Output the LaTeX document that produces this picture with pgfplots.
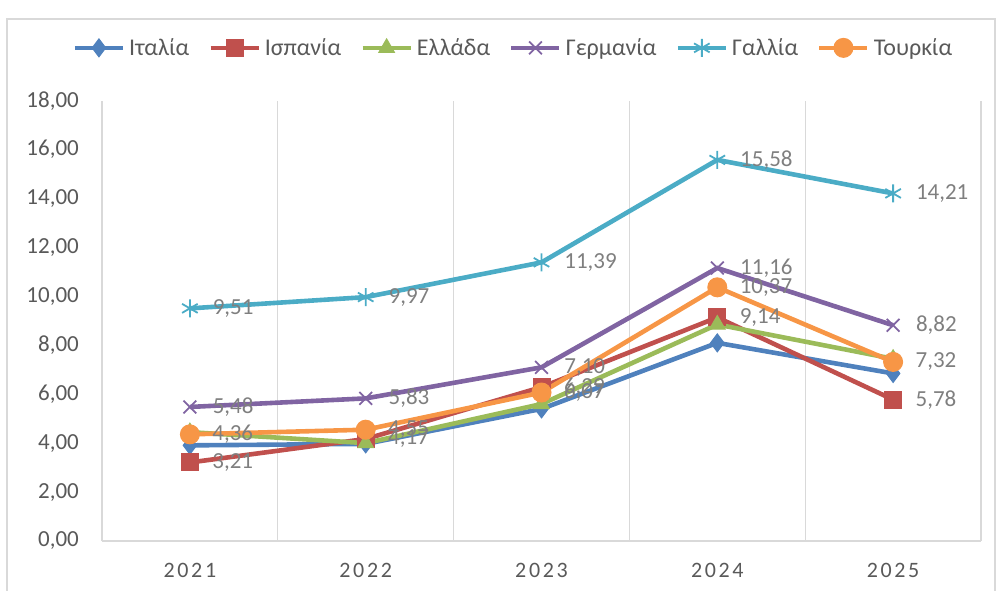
\documentclass[border=0pt]{standalone}
\usepackage{fontspec}
\setmainfont{Carlito}
\usepackage{pgfplots}
\pgfplotsset{compat=1.18}
\definecolor{cIt}{HTML}{4F81BD}
\definecolor{cEs}{HTML}{C0504D}
\definecolor{cGr}{HTML}{9BBB59}
\definecolor{cDe}{HTML}{8064A2}
\definecolor{cFr}{HTML}{4BACC6}
\definecolor{cTr}{HTML}{F79646}
\definecolor{gridc}{HTML}{D9D9D9}
\definecolor{tickc}{HTML}{595959}
\definecolor{labc}{HTML}{7F7F7F}
\pgfplotstableread{
x It Es Gr De Fr Tr
0 3.91 3.21 4.45 5.48 9.51 4.36
1 3.97 4.17 4.00 5.83 9.97 4.55
2 5.40 6.29 5.60 7.10 11.39 6.07
3 8.10 9.14 8.85 11.16 15.58 10.37
4 6.85 5.78 7.45 8.82 14.21 7.32
}\data
\begin{document}
\begin{tikzpicture}
\useasboundingbox (0,0) rectangle (996pt,590pt);
\draw[gridc, line width=1.5pt] (7pt,-5pt) -- (7pt,571pt) -- (995pt,571pt) -- (995pt,-5pt);
\begin{axis}[
  at={(102pt,49pt)}, anchor=south west,
  scale only axis, width=879pt, height=440.3pt,
  xmin=-0.5, xmax=4.5, ymin=0, ymax=18,
  xtick={0,1,2,3,4},
  xticklabels={2021,2022,2023,2024,2025},
  minor xtick={-0.5,0.5,1.5,2.5,3.5,4.5},
  xminorgrids=true,
  minor grid style={gridc, line width=1.3pt},
  ytick={0,2,...,18},
  major tick length=0pt, minor tick length=0pt,
  separate axis lines,
  axis x line*=bottom, axis y line*=left,
  x axis line style={gridc, line width=1.3pt, -},
  y axis line style={draw=none},
  /pgf/number format/.cd, use comma, fixed, fixed zerofill, precision=2, assume math mode=true,
  /pgfplots/.cd,
  yticklabel style={font=\fontsize{23}{27}\selectfont, text=tickc, anchor=east, inner sep=0pt, xshift=-23pt},
  xticklabel style={font=\fontsize{22}{26}\selectfont\addfontfeatures{LetterSpace=12}, text=tickc, anchor=center, inner sep=0pt, yshift=-29pt},
  every axis plot/.append style={line width=4.6pt},
  legend columns=6,
  legend style={draw=none, fill=none, at={(0.468,1.12)}, anchor=center,
    font=\fontsize{24}{28}\selectfont, text=tickc,
    /tikz/every even column/.append style={column sep=17pt},
    /tikz/every odd column/.append style={column sep=2pt}},
  legend image code/.code={\draw[mark repeat=2,mark phase=2] plot coordinates {(0pt,0pt) (24pt,0pt) (48pt,0pt)};},
  lab/.style={nodes near coords, point meta=y, nodes near coords align=horizontal,
    every node near coord/.append style={font=\fontsize{23}{27}\selectfont, text=labc, inner sep=0pt, xshift=22pt}},
]
\addplot[cIt, mark=diamond*, mark size=9pt, mark options={solid, line width=1pt}] table[x=x,y=It] {\data};
\addlegendentry{Ιταλία}
\addplot[cEs, mark=square*, mark size=8.5pt, mark options={solid, line width=1pt}, lab] table[x=x,y=Es] {\data};
\addlegendentry{Ισπανία}
\addplot[cGr, mark=triangle*, mark size=9pt, mark options={solid, line width=1pt}] table[x=x,y=Gr] {\data};
\addlegendentry{Ελλάδα}
\addplot[cDe, mark=x, mark size=9pt, mark options={solid, line width=1.8pt}, lab] table[x=x,y=De] {\data};
\addlegendentry{Γερμανία}
\addplot[cFr, mark=asterisk, mark size=9pt, mark options={solid, line width=1.8pt}, lab] table[x=x,y=Fr] {\data};
\addlegendentry{Γαλλία}
\addplot[cTr, mark=*, mark size=9.5pt, mark options={solid, line width=1pt}, lab] table[x=x,y=Tr] {\data};
\addlegendentry{Τουρκία}
\end{axis}
\end{tikzpicture}
\end{document}
